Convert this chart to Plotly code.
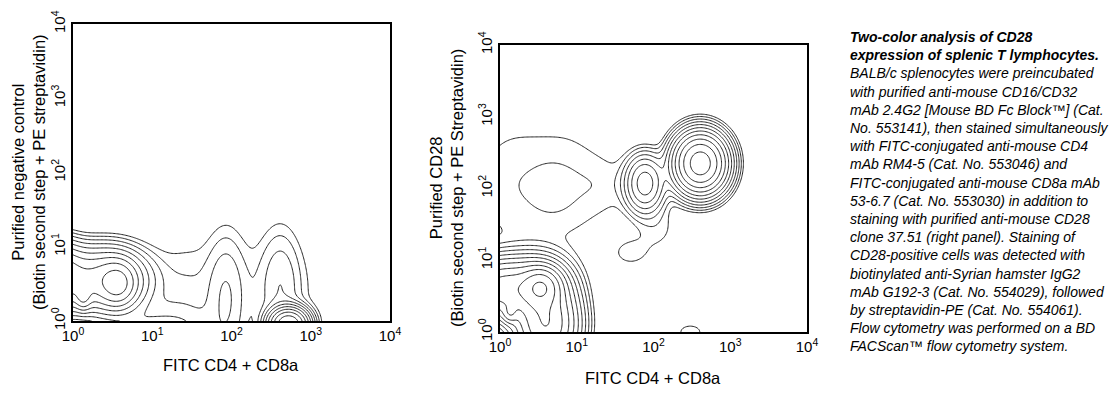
import numpy as np
import plotly.graph_objects as go

# ---------------- data (log10 decades) ----------------
# Left panel: populations
left_cx = [0.57, 0.40, -0.25, 0.13, 1.93, 2.62, 2.72, 1.10, 2.10, 1.40]
left_cy = [0.50, 0.55, 0.60, 0.32, 0.30, 0.45, -0.05, -0.20, 0.40, 0.30]
left_sx = [0.13, 0.30, 0.22, 0.06, 0.15, 0.16, 0.13, 0.40, 0.85, 0.25]
left_sy = [0.17, 0.24, 0.24, 0.10, 0.55, 0.50, 0.12, 0.25, 0.60, 0.50]
left_w = [0.30, 0.30, 0.45, 0.15, 0.030, 0.030, 1.00, 0.05, 0.012, 0.008]

# Right panel populations
right_cx = [2.61, 1.89, 0.54, 0.45, 0.00, 0.13, 0.60, 0.67, 0.10, 0.90, 1.45, 1.70, 2.05, 2.48]
right_cy = [2.35, 2.07, 0.63, 0.60, 0.60, 0.26, 0.10, 1.98, 2.05, 2.05, 2.05, 1.10, 1.45, 0.00]
right_sx = [0.18, 0.14, 0.14, 0.25, 0.25, 0.06, 0.22, 0.17, 0.40, 0.40, 0.30, 0.18, 0.20, 0.15]
right_sy = [0.22, 0.22, 0.15, 0.24, 0.22, 0.08, 0.30, 0.22, 0.70, 0.70, 0.30, 0.15, 0.25, 0.10]
right_w = [1.30, 0.20, 0.62, 0.35, 0.45, 0.20, 0.60, 0.006, 0.013, 0.013, 0.008, 0.012, 0.012, 0.014]

decades = [0, 1, 2, 3, 4]
tick_text = ["10<sup>0</sup>", "10<sup>1</sup>", "10<sup>2</sup>", "10<sup>3</sup>", "10<sup>4</sup>"]

x_title = "FITC CD4 + CD8a"
left_y_title = "Purified negative control<br>(Biotin second step + PE streptavidin)"
right_y_title = "Purified CD28<br>(Biotin second step + PE Streptavidin)"

caption_bold = ["Two-color analysis of CD28", "expression of splenic T lymphocytes."]
caption_body = [
    "BALB/c splenocytes were preincubated",
    "with purified anti-mouse CD16/CD32",
    "mAb 2.4G2 [Mouse BD Fc Block\u2122] (Cat.",
    "No. 553141), then stained simultaneously",
    "with FITC-conjugated anti-mouse CD4",
    "mAb RM4-5 (Cat. No. 553046) and",
    "FITC-conjugated anti-mouse CD8a mAb",
    "53-6.7 (Cat. No. 553030) in addition to",
    "staining with purified anti-mouse CD28",
    "clone 37.51 (right panel). Staining of",
    "CD28-positive cells was detected with",
    "biotinylated anti-Syrian hamster IgG2",
    "mAb G192-3 (Cat. No. 554029), followed",
    "by streptavidin-PE (Cat. No. 554061).",
    "Flow cytometry was performed on a BD",
    "FACScan\u2122 flow cytometry system.",
]

# ---------------- density grids ----------------
grid = np.linspace(0, 4, 241)
GX, GY = np.meshgrid(grid, grid)


def log_density(cx, cy, sx, sy, w):
    z = np.zeros_like(GX)
    for a, b, c, d, e in zip(cx, cy, sx, sy, w):
        z += e * np.exp(-0.5 * (((GX - a) / c) ** 2 + ((GY - b) / d) ** 2))
    return np.log10(z + 1e-12)


zl = log_density(left_cx, left_cy, left_sx, left_sy, left_w)
zr = log_density(right_cx, right_cy, right_sx, right_sy, right_w)

FONT = "Liberation Sans, Arial, sans-serif"
LINE = "#262626"
levels = dict(coloring="lines", start=-2.0, end=0.2, size=0.2)
cs = [[0, LINE], [1, LINE]]

fig = go.Figure()
fig.add_trace(go.Contour(x=grid, y=grid, z=zl, contours=levels, colorscale=cs,
                         showscale=False, line=dict(width=1, smoothing=1),
                         hoverinfo="skip", xaxis="x", yaxis="y"))
fig.add_trace(go.Contour(x=grid, y=grid, z=zr, contours=levels, colorscale=cs,
                         showscale=False, line=dict(width=1, smoothing=1),
                         hoverinfo="skip", xaxis="x2", yaxis="y2"))

W, H = 1119, 393
OFF = 8  # page body margin


def px(v):
    return (v - OFF) / W


def py(v):
    return 1 - (v - OFF) / H


ax_common = dict(range=[0, 4], tickvals=decades, ticktext=tick_text, showgrid=False,
                 zeroline=False, showline=True, mirror=True, linecolor="black",
                 linewidth=2, ticks="", automargin=False,
                 tickfont=dict(family=FONT, size=15, color="black"))

fig.update_layout(
    width=W, height=H, margin=dict(l=0, r=0, t=0, b=0),
    paper_bgcolor="white", plot_bgcolor="white", showlegend=False,
    xaxis=dict(domain=[px(73), px(390)], anchor="y", **ax_common),
    yaxis=dict(domain=[py(321), py(24)], anchor="x", tickangle=-90, **ax_common),
    xaxis2=dict(domain=[px(500), px(807)], anchor="y2", **ax_common),
    yaxis2=dict(domain=[py(332), py(45)], anchor="x2", tickangle=-90, **ax_common),
)

tfont = dict(family=FONT, size=16.5, color="black")
ann = [
    dict(text=x_title, x=px(231), y=py(365), xref="paper", yref="paper", showarrow=False,
         font=tfont, xanchor="center", yanchor="middle"),
    dict(text=x_title, x=px(653), y=py(378), xref="paper", yref="paper", showarrow=False,
         font=tfont, xanchor="center", yanchor="middle"),
    dict(text=left_y_title, x=px(29), y=py(172), xref="paper", yref="paper", showarrow=False,
         font=tfont, textangle=-90, xanchor="center", yanchor="middle"),
    dict(text=right_y_title, x=px(446), y=py(188), xref="paper", yref="paper", showarrow=False,
         font=tfont, textangle=-90, xanchor="center", yanchor="middle"),
]
caption = "<br>".join(["<b><i>" + s + "</i></b>" for s in caption_bold] +
                      ["<i>" + s + "</i>" for s in caption_body])
ann.append(dict(text=caption, x=px(848), y=py(27), xref="paper", yref="paper", showarrow=False,
                font=dict(family=FONT, size=14, color="black"), align="left",
                xanchor="left", yanchor="top"))
fig.update_layout(annotations=ann)

fig.write_html("out.html")
